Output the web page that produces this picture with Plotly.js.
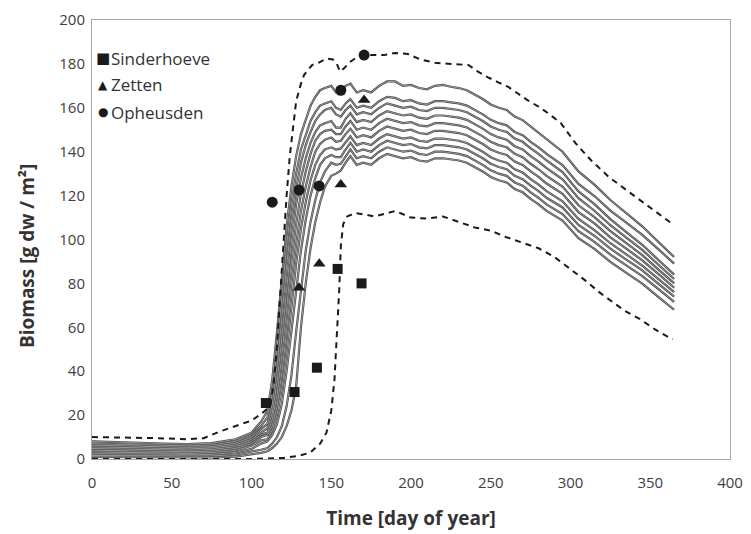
<!DOCTYPE html>
<html>
<head>
<meta charset="utf-8">
<script src="https://cdn.plot.ly/plotly-3.0.1.min.js"></script>
<style>html,body{margin:0;padding:0;background:#fff;}#chart{width:751px;height:534px;}</style>
</head>
<body>
<div id="chart"></div>
<script>
// Days of year at which the simulated ensemble lines are sampled
const days = [0,15,30,45,60,75,90,100,106,
  110,113,116,119,122,125,128,131,134,137,140,143,146,
  150,153,156,159,162,166,170,175,180,185,190,195,200,205,210,215,220,225,230,235,240,245,250,255,260,265,270,275,280,285,
  295,305,315,325,335,345,355,365];

// Ensemble (solid) lines, top to bottom
const line0 = [8,7.8,7.4,7,6.8,7.2,9,12,17,
  22,36,58,84,106,124,138,148,155,161,165,168,169,
  170,167,168,170,171,167,168,167,170,172,172,170,170.4,169,168.4,170,170.4,169.6,169,168,166,164,161.5,160,159,156,154.4,151.5,148.5,145.5,
  140,131,125,118,112,106,99,92];
const line1 = [7,6.8,6.5,6.2,6,6.4,8,11,15,
  19,30,50,74,97,116,130,141,148,154,158,161,162,
  163,160,159,162,164,160,161,160,163,165,164.5,163,163.5,162,161.5,163,163,162.5,162,161,159,157,154.5,153,152,149,147.5,144.5,142,139,
  133.9,125.3,119.8,113.2,107.7,102.1,95.6,89];
const line2 = [6.3,6.1,5.8,5.5,5.3,5.6,7.2,10,13.5,
  16,25,42,64,88,108,123,135,143,149,154,157,159,
  160,157,156,159,161,157,158,157,160,162,161,160,160.5,159,158.5,160,160,159.5,159,158,156,154,151.5,150,149,146,144.5,141.5,139,136,
  130.7,121.9,116.1,109.3,103.4,97.6,90.8,84];
const line3 = [5.5,5.4,5.1,4.8,4.6,5,6.4,9,12,
  14,21,35,55,78,99,116,128,137,144,149,152,153,
  154,151,151,155,157.5,153.5,154.5,153.5,156.5,158.5,157.5,156.5,157,155.5,155,156.5,156.5,156,155.5,154.5,152.5,150.5,148,146.5,145.5,142.5,141,138,135.5,132.5,
  127.4,118.8,113.1,106.5,100.9,95.3,88.6,82];
const line4 = [4.8,4.7,4.4,4.2,4,4.3,5.6,8,11,
  12,18,29,47,68,90,107,121,131,139,145,148,149.5,
  150,148,148,151.5,154,150,151,150,153,155,154,153,153.5,152,151.5,153,153,152.5,152,151,149,147,144.5,143,142,139,137.5,134.5,132,129,
  124.1,115.6,110.2,103.8,98.3,92.9,86.4,80];
const line5 = [4,3.9,3.7,3.5,3.3,3.6,4.8,7,10,
  11,15,24,39,58,80,98,113,124,133,140,143.5,145.5,
  146.5,144.5,145,148,150.5,146.5,147.5,146.5,149.5,151.5,150.5,149.5,150,148.5,148,149.5,149.5,149,148.5,147.5,145.5,143.5,141,139.5,138.5,135.5,134,131,128.5,125.5,
  120.8,112.5,107.3,101,95.8,90.5,84.3,78];
const line6 = [3.2,3.1,2.9,2.7,2.6,2.9,3.9,6,8.5,
  9,13,20,32,49,70,89,105,117,127,134,138.5,141,
  142,141,141.5,144.5,147,143,144,143,146,148,147,146,146.5,145,144.5,146,146,145.5,145,144,142,140,137.5,136,135,132,130.5,127.5,125,122,
  117.4,109.4,104.3,98.3,93.2,88.1,82.1,76];
const line7 = [2.4,2.3,2.2,2,1.9,2.1,3,4.6,7,
  8,11,16,25,40,58,78,95,109,120,128,134,137,
  138.5,137.5,137.5,141,144,140,141,140,143,145,144,143,143.5,142,141.5,143,143,142.5,142,141,139,137,134.5,133,132,129,127.5,124.5,122,119,
  114.6,106.6,101.7,95.8,90.8,85.9,79.9,74];
const line8 = [1.6,1.5,1.4,1.3,1.2,1.4,2,3.3,4.2,
  5,7,10,15,24,38,58,78,95,108,118,126,131,
  135,134,134.5,138,141,137,138,137,140,142,141,140,140.5,139,138.5,140,140,139.5,139,138,136,134,131.5,130,129,126,124.5,121.5,119,116,
  111.6,103.8,98.9,93.1,88.2,83.3,77.5,71.6];
const line9 = [1,0.9,0.8,0.7,0.6,0.7,1.1,2,2.8,
  3.5,5,7,10,15,22,33,60,80,96,108,117,124,
  129,130,131.5,135,138,134,135,134,137,139,138,137,137.5,136,135.5,137,137,136.5,136,135,133,131,128.5,127,126,123,121.5,118.5,116,113,
  108.6,100.6,95.7,89.8,84.8,79.9,73.9,68];

// Upper and lower bounds (dashed)
const upperDays = [0,20,40,60,70,80,90,100,106,110,112,114,116,118,120,122,124,126,128,131,
  133,138,142,147,151,153.5,155.5,158,162,166,170,176,183,190,198,206,215,225,236,242,
  248,255,261,267,273,280,286,294,303,313,324,336,350,365];
const upperVals = [10,9.8,9.5,9,9.5,12.5,15,17.5,20.5,23,25,35,52,74,100,120,138,152,163,171,
  175,179.5,180.5,182.5,182,180,176.5,178,181,183,184,184,184,185,184.5,182,180.5,180,179.5,176.5,
  174,171.5,169.5,166.5,163.5,160.5,157.5,153,144,136,128.5,122,114.5,106.5];
const lowerDays = [0,50,100,120,130,137,143,147,150,152,153.5,155,156,157.5,160,165,170,177,185,190,
  195,200,210,220,230,240,250,260,270,280,290,300,309,318,326,334,343,353,364];
const lowerVals = [0,0,0,0.5,1.5,3,7,12,22,36,55,77,97,107,110.5,112,111.5,110.5,112,113,
  111.5,110,109.5,110.5,108,105.5,104,101,98.5,96,92,86.5,81.5,76,71.7,67.5,64,59,54.5];

// Observations
const seriesNames = ['Sinderhoeve','Zetten','Opheusden'];
const sinderDays = [109,127,141,154,169];
const sinderVals = [25.5,30.5,41.6,86.6,80];
const zettenDays = [129.8,142.5,156,170.6];
const zettenVals = [78,89,125,163.5];
const opheusDays = [113,129.8,142.4,156,170.6];
const opheusVals = [117,122.5,124.4,168,184];

const xTicks = [0,50,100,150,200,250,300,350,400];
const yTicks = [0,20,40,60,80,100,120,140,160,180,200];

const FONT = '"Open Sans", Lato, sans-serif';
const lines = [line0,line1,line2,line3,line4,line5,line6,line7,line8,line9];
const traces = [];
lines.forEach(v => {
  traces.push({x: days, y: v, mode: 'lines', line: {color: '#454545', width: 2.2}, showlegend: false, hoverinfo: 'skip'});
});
lines.forEach(v => {
  traces.push({x: days, y: v, mode: 'lines', line: {color: '#cfcfcf', width: 0.6}, showlegend: false, hoverinfo: 'skip'});
});
traces.push({x: upperDays, y: upperVals, mode: 'lines', line: {color: '#1a1a1a', width: 2, dash: '6px,5px'}, showlegend: false});
traces.push({x: lowerDays, y: lowerVals, mode: 'lines', line: {color: '#1a1a1a', width: 2, dash: '6px,5px'}, showlegend: false});
traces.push({x: sinderDays, y: sinderVals, mode: 'markers', name: seriesNames[0],
  marker: {symbol: 'square', size: 10, color: '#1a1a1a'}, showlegend: false});
traces.push({x: zettenDays, y: zettenVals, mode: 'markers', name: seriesNames[1],
  marker: {symbol: 'triangle-up', size: 11, color: '#1a1a1a'}, showlegend: false});
traces.push({x: opheusDays, y: opheusVals, mode: 'markers', name: seriesNames[2],
  marker: {symbol: 'circle', size: 11, color: '#1a1a1a'}, showlegend: false});

// Legend drawn as text: symbol glyph directly followed by the series name
const legendGlyphs = ['■','▲','●'];
const legendY = [0.913, 0.852, 0.790];
const annotations = [];
seriesNames.forEach((n, i) => {
  annotations.push({xref: 'paper', yref: 'paper', x: 0.0175, y: legendY[i], xanchor: 'center', yanchor: 'middle',
    text: legendGlyphs[i], showarrow: false, font: {family: 'DejaVu Sans', size: i === 0 ? 15 : 12, color: '#1a1a1a'}});
  annotations.push({xref: 'paper', yref: 'paper', x: 0.026, y: legendY[i], xanchor: 'left', yanchor: 'middle',
    text: n, showarrow: false, font: {family: FONT, size: 17, color: '#333'}});
});
// Y axis title (placed as in the reference, slightly below the plot centre)
annotations.push({xref: 'paper', yref: 'paper', x: -0.102, y: 0.462, xanchor: 'center', yanchor: 'middle',
  textangle: -90, showarrow: false, text: '<b>Biomass [g dw / m²]</b>', font: {family: FONT, size: 19, color: '#333'}});

const layout = {
  width: 751, height: 534,
  margin: {l: 92, r: 21, t: 20, b: 75},
  paper_bgcolor: '#fff', plot_bgcolor: '#fff',
  font: {family: FONT, size: 15, color: '#404040'},
  showlegend: false,
  annotations: annotations,
  xaxis: {
    range: [0, 400], tickvals: xTicks, ticktext: xTicks.map(String),
    showgrid: false, zeroline: false, showline: true, mirror: true,
    linecolor: '#a6a6a6', linewidth: 1, ticks: '', ticklabelstandoff: 10,
    tickfont: {family: FONT, size: 15, color: '#404040'},
    title: {text: '<b>Time [day of year]</b>', font: {family: FONT, size: 19, color: '#333'}, standoff: 20}
  },
  yaxis: {
    range: [0, 200], tickvals: yTicks, ticktext: yTicks.map(String),
    showgrid: false, zeroline: false, showline: true, mirror: true,
    linecolor: '#a6a6a6', linewidth: 1, ticks: '', ticklabelstandoff: 3,
    tickfont: {family: FONT, size: 15, color: '#404040'}
  }
};
Plotly.newPlot('chart', traces, layout, {displayModeBar: false, staticPlot: true});
</script>
</body>
</html>
